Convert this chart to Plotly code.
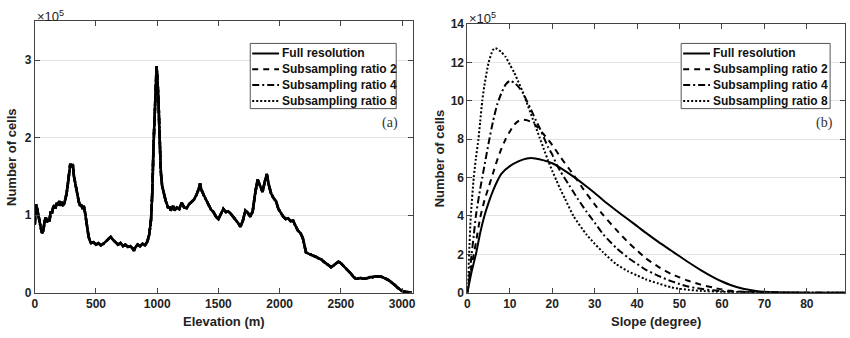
import plotly.graph_objects as go

# ---------------- data ----------------
series_names = ["Full resolution", "Subsampling ratio 2", "Subsampling ratio 4", "Subsampling ratio 8"]

elev_m = [0, 10, 20, 30, 40, 50, 60, 70, 80, 90, 100, 110, 120, 130, 140, 150, 160, 170, 180, 190,
          200, 210, 220, 230, 240, 250, 260, 270, 280, 290, 300, 310, 320, 330, 340, 350, 360, 370, 380, 390,
          400, 410, 420, 430, 440, 450, 460, 480, 500, 520, 540, 560, 580, 600, 620, 640, 660, 680, 700, 720,
          740, 760, 780, 800, 810, 820, 840, 860, 880, 900, 920, 935, 950, 960, 970, 980, 990, 995, 1000, 1010,
          1020, 1030, 1040, 1050, 1060, 1070, 1080, 1090, 1100, 1110, 1120, 1130, 1140, 1160, 1180, 1200, 1220, 1240, 1260, 1280,
          1300, 1320, 1340, 1350, 1360, 1380, 1400, 1420, 1440, 1460, 1480, 1500, 1520, 1540, 1560, 1580, 1600, 1620, 1640, 1660,
          1680, 1700, 1720, 1740, 1760, 1780, 1800, 1820, 1840, 1860, 1880, 1895, 1910, 1930, 1950, 1970, 1990, 2010, 2030, 2050,
          2070, 2090, 2110, 2130, 2150, 2170, 2190, 2200, 2215, 2240, 2260, 2280, 2300, 2320, 2340, 2360, 2380, 2400, 2420, 2440,
          2460, 2480, 2500, 2520, 2540, 2560, 2580, 2600, 2620, 2640, 2660, 2680, 2700, 2720, 2740, 2760, 2780, 2800, 2820, 2840,
          2860, 2880, 2900, 2920, 2940, 2960, 2980, 3000, 3020, 3040, 3060, 3080]
elev_cells_e5 = [0.88, 1.14, 1.08, 0.98, 0.92, 0.83, 0.77, 0.80, 0.92, 0.97, 0.91, 0.95, 0.92, 1.05, 1.02, 1.10, 1.13, 1.09, 1.16, 1.13,
                 1.18, 1.12, 1.17, 1.13, 1.14, 1.20, 1.28, 1.40, 1.55, 1.66, 1.62, 1.66, 1.50, 1.42, 1.30, 1.22, 1.17, 1.12, 1.14, 1.08,
                 1.12, 1.04, 0.92, 0.80, 0.72, 0.67, 0.64, 0.65, 0.62, 0.64, 0.61, 0.63, 0.66, 0.70, 0.72, 0.68, 0.65, 0.62, 0.64, 0.60,
                 0.62, 0.59, 0.60, 0.57, 0.54, 0.58, 0.62, 0.60, 0.63, 0.61, 0.66, 0.75, 0.95, 1.30, 1.90, 2.40, 2.88, 2.92, 2.80, 2.50,
                 2.00, 1.55, 1.38, 1.30, 1.22, 1.18, 1.14, 1.09, 1.11, 1.06, 1.08, 1.12, 1.06, 1.10, 1.08, 1.16, 1.10, 1.09, 1.14, 1.17,
                 1.20, 1.26, 1.34, 1.41, 1.33, 1.26, 1.20, 1.13, 1.07, 1.04, 0.98, 0.95, 1.02, 1.08, 1.04, 1.05, 1.02, 0.98, 0.95, 0.90,
                 0.85, 0.93, 1.06, 1.03, 0.98, 1.05, 1.28, 1.46, 1.38, 1.30, 1.44, 1.53, 1.40, 1.28, 1.22, 1.18, 1.08, 1.02, 0.98, 0.95,
                 0.96, 0.92, 0.93, 0.86, 0.80, 0.77, 0.70, 0.63, 0.52, 0.50, 0.49, 0.47, 0.46, 0.44, 0.43, 0.40, 0.38, 0.35, 0.33, 0.35,
                 0.38, 0.40, 0.38, 0.35, 0.31, 0.28, 0.25, 0.21, 0.18, 0.18, 0.19, 0.18, 0.19, 0.19, 0.20, 0.20, 0.21, 0.21, 0.21, 0.20,
                 0.19, 0.17, 0.15, 0.13, 0.10, 0.07, 0.04, 0.02, 0.01, 0.01, 0.005, 0.0]

slope_full_deg = [0, 1, 2, 3, 4, 5, 6, 7, 8, 10, 12, 14, 15, 16, 18, 20, 22, 25, 28, 30, 32, 35, 38, 40, 42, 45, 48, 50,
                  52, 55, 58, 60, 62, 65, 68, 70, 75, 80, 89]
slope_full_e5 = [0, 1.1, 2.0, 3.1, 4.0, 4.7, 5.3, 5.8, 6.2, 6.6, 6.85, 7.0, 7.02, 7.0, 6.9, 6.75, 6.5, 6.05, 5.55, 5.2, 4.82, 4.3,
                 3.8, 3.47, 3.13, 2.65, 2.2, 1.9, 1.6, 1.18, 0.8, 0.58, 0.4, 0.2, 0.09, 0.05, 0.01, 0, 0]

slope_r2_deg = [0, 1, 1.5, 2, 3, 4, 5, 6, 7, 8, 9, 10, 11, 12, 13, 14, 15, 16, 18, 20, 22, 24, 25, 27, 30, 32, 35, 38, 40,
                42, 45, 48, 50, 52, 55, 58, 60, 62, 65, 70, 75, 80, 89]
slope_r2_e5 = [0, 1.4, 2.0, 2.6, 3.9, 4.8, 5.5, 6.2, 6.9, 7.5, 8.0, 8.4, 8.75, 8.95, 9.02, 9.0, 8.9, 8.75, 8.25, 7.7, 7.05, 6.45,
               6.15, 5.5, 4.6, 4.05, 3.3, 2.6, 2.2, 1.8, 1.35, 0.98, 0.8, 0.62, 0.42, 0.26, 0.16, 0.1, 0.05, 0.02, 0, 0, 0]

slope_r4_deg = [0, 0.5, 1, 1.5, 2, 3, 3.5, 4, 5, 6, 7, 8, 9, 10, 11, 12, 13, 14, 15, 16, 17, 18, 19, 20, 21, 22, 24, 26, 28,
                30, 32, 35, 38, 40, 42, 45, 48, 50, 52, 55, 58, 60, 65, 70, 75, 80, 89]
slope_r4_e5 = [0, 1.0, 2.0, 3.0, 4.0, 5.4, 6.0, 6.6, 7.8, 8.9, 9.8, 10.4, 10.85, 11.05, 10.95, 10.75, 10.45, 10.0, 9.55, 9.05,
               8.6, 8.1, 7.6, 7.2, 6.7, 6.3, 5.6, 4.9, 4.25, 3.65, 3.05, 2.35, 1.8, 1.5, 1.2, 0.88, 0.6, 0.45, 0.32, 0.2, 0.12,
               0.08, 0.03, 0.01, 0, 0, 0]

slope_r8_deg = [0, 0.2, 0.4, 0.8, 1.5, 2, 2.6, 3, 3.5, 4, 5, 6, 6.5, 7, 8, 9, 10, 11, 12, 13, 14, 15, 16, 17, 18, 19, 20, 21,
                22, 23, 25, 28, 30, 32, 35, 38, 40, 42, 45, 48, 50, 52, 55, 60, 65, 70, 75, 80, 89]
slope_r8_e5 = [0, 1.0, 2.0, 4.0, 6.0, 7.0, 8.0, 8.9, 10.0, 10.8, 12.0, 12.65, 12.75, 12.72, 12.55, 12.3, 11.9, 11.5, 11.0, 10.5,
               9.9, 9.3, 8.7, 8.1, 7.5, 6.9, 6.35, 5.85, 5.35, 4.9, 4.0, 3.05, 2.55, 2.1, 1.5, 1.1, 0.9, 0.7, 0.48, 0.28, 0.2,
               0.15, 0.09, 0.04, 0.02, 0.01, 0, 0, 0]

elev_ticks = [0, 500, 1000, 1500, 2000, 2500, 3000]
elev_yticks = [0, 1, 2, 3]
slope_ticks = [0, 10, 20, 30, 40, 50, 60, 70, 80]
slope_yticks = [0, 2, 4, 6, 8, 10, 12, 14]

# ---------------- figure ----------------
W, H = 850, 338
dashes = ["solid", "6px,5px", "7px,3px,2px,3px", "2px,2px"]
FONT = "Liberation Sans, Arial, sans-serif"

fig = go.Figure()

# left panel: all four series share the same elevation distribution (they overlap)
for i, name in enumerate(series_names):
    fig.add_trace(go.Scatter(x=elev_m, y=elev_cells_e5, mode="lines", name=name, showlegend=False,
                             line=dict(color="black", width=2.6, dash=dashes[i]),
                             xaxis="x", yaxis="y"))

slope_x = [slope_full_deg, slope_r2_deg, slope_r4_deg, slope_r8_deg]
slope_y = [slope_full_e5, slope_r2_e5, slope_r4_e5, slope_r8_e5]
for i, name in enumerate(series_names):
    fig.add_trace(go.Scatter(x=slope_x[i], y=slope_y[i], mode="lines", name=name, showlegend=False,
                             line=dict(color="black", width=2, dash=dashes[i], shape="spline", smoothing=0.6),
                             xaxis="x2", yaxis="y2"))

tickfont = dict(family=FONT, size=12, color="#222", weight="bold")
axis_common = dict(showline=True, linecolor="#444", linewidth=1, mirror="ticks", ticks="inside",
                   ticklen=5, tickcolor="#444", tickfont=tickfont, zeroline=False)

L0, L1 = 32 / W, 413 / W
R0, R1 = 467.7 / W, 848 / W
B = (H - 298) / H
TL = (H - 15) / H
TR = (H - 18) / H

fig.update_layout(
    width=W, height=H, margin=dict(l=0, r=0, t=0, b=0),
    paper_bgcolor="white", plot_bgcolor="white", showlegend=False,
    xaxis=dict(domain=[L0, L1], range=[0, 3090], tickvals=elev_ticks, showgrid=False, anchor="y", **axis_common),
    yaxis=dict(domain=[B, TL], range=[0, 3.5], tickvals=elev_yticks, showgrid=True, gridcolor="#e2e2e2",
               anchor="x", **axis_common),
    xaxis2=dict(domain=[R0, R1], range=[0, 89], tickvals=slope_ticks, showgrid=False, anchor="y2", **axis_common),
    yaxis2=dict(domain=[B, TR], range=[0, 14], tickvals=slope_yticks, showgrid=True, gridcolor="#e2e2e2",
                anchor="x2", **axis_common),
)

titlefont = dict(family=FONT, size=13, color="#222", weight="bold")
ann = [
    dict(text="Elevation (m)", x=(L0 + L1) / 2, y=(H - 328) / H, font=titlefont),
    dict(text="Slope (degree)", x=(R0 + R1) / 2, y=(H - 328) / H, font=titlefont),
    dict(text="Number of cells", x=8 / W, y=(B + TL) / 2, textangle=-90, font=titlefont),
    dict(text="Number of cells", x=440 / W, y=(B + TR) / 2, textangle=-90, font=titlefont),
    dict(text="×10<sup>5</sup>", x=32 / W, y=(H - 9) / H, xanchor="left",
         font=dict(family=FONT, size=13, color="#222")),
    dict(text="×10<sup>5</sup>", x=467 / W, y=(H - 11) / H, xanchor="left",
         font=dict(family=FONT, size=13, color="#222")),
    dict(text="(a)", x=390 / W, y=(H - 121) / H,
         font=dict(family="Liberation Serif, Times New Roman, serif", size=14, color="#333")),
    dict(text="(b)", x=827 / W, y=(H - 121) / H,
         font=dict(family="Liberation Serif, Times New Roman, serif", size=14, color="#333")),
]

# ---- custom compact legends (one per panel) ----
shapes = []
legend_boxes = [(249, 396), (683, 833)]
row_y = [48.5, 65, 81.5, 98]
for (bx0, bx1) in legend_boxes:
    shapes.append(dict(type="rect", xref="paper", yref="paper",
                       x0=bx0 / W, x1=bx1 / W, y0=(H - 106) / H, y1=(H - 38) / H,
                       line=dict(color="#555", width=1), fillcolor="white", layer="above"))
    for i, name in enumerate(series_names):
        yy = (H - row_y[i]) / H
        shapes.append(dict(type="line", xref="paper", yref="paper",
                           x0=(bx0 + 2) / W, x1=(bx0 + 29) / W, y0=yy, y1=yy,
                           line=dict(color="black", width=2, dash=dashes[i]), layer="above"))
        ann.append(dict(text=name, x=(bx0 + 30) / W, y=yy, xanchor="left",
                        font=dict(family=FONT, size=12, color="#111", weight="bold")))

for a in ann:
    a.update(xref="paper", yref="paper", showarrow=False)
    a.setdefault("xanchor", "center")
    a.setdefault("yanchor", "middle")
fig.update_layout(annotations=ann, shapes=shapes)

fig.write_html("out.html")
